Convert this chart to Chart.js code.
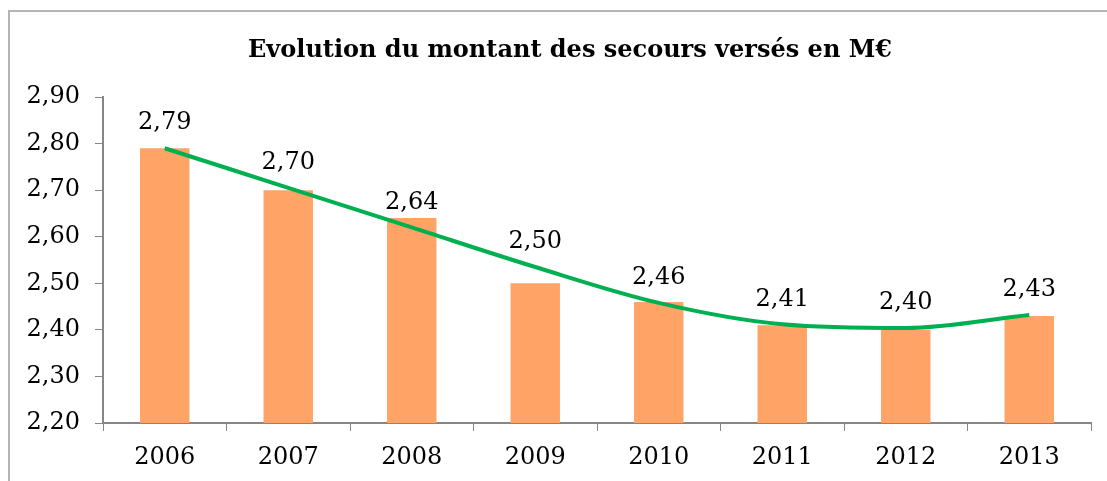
<!DOCTYPE html>
<html>
<head>
<meta charset="utf-8">
<script src="https://cdn.jsdelivr.net/npm/chart.js@4/dist/chart.umd.min.js"></script>
<style>
  html, body { margin: 0; padding: 0; background: #fff; overflow: hidden; }
  #frame { position: absolute; left: 8px; top: 10px; width: 1120px; height: 480px; border-left: 2px solid #b4b4b4; border-top: 2px solid #b4b4b4; box-sizing: border-box; }
  #wrap { position: absolute; left: 0; top: 0; width: 1107px; height: 481px; }
</style>
</head>
<body>
<div id="frame"></div>
<div id="wrap"><canvas id="chart"></canvas></div>
<script>
const years = ['2006', '2007', '2008', '2009', '2010', '2011', '2012', '2013'];
const amounts = [2.79, 2.70, 2.64, 2.50, 2.46, 2.41, 2.40, 2.43];
// trend curve
const trend = [2.79, 2.705, 2.62, 2.535, 2.458, 2.412, 2.404, 2.432];
const yMin = 2.20;
const yMax = 2.90;
const titleText = 'Evolution du montant des secours versés en M€';

const fmt = v => v.toFixed(2).replace('.', ',');
const serif = '"DejaVu Serif", "Liberation Serif", serif';

// title (sits a bit right of the canvas centre, as in the original)
// and the value labels above the bars
const texts = {
  id: 'texts',
  afterDatasetsDraw(chart) {
    const ctx = chart.ctx;
    const meta = chart.getDatasetMeta(0);
    ctx.save();
    ctx.fillStyle = '#000';
    ctx.textAlign = 'center';
    ctx.textBaseline = 'middle';
    ctx.font = 'bold 24px ' + serif;
    ctx.fillText(titleText, 570, 51);
    ctx.font = '24px ' + serif;
    meta.data.forEach((bar, i) => {
      ctx.fillText(fmt(amounts[i]), bar.x, bar.y - 25);
    });
    ctx.restore();
  }
};

new Chart(document.getElementById('chart'), {
  data: {
    labels: years,
    datasets: [
      {
        type: 'line',
        data: trend,
        borderColor: '#00b050',
        borderWidth: 4,
        pointRadius: 0,
        tension: 0.4,
        cubicInterpolationMode: 'monotone',
        fill: false,
        order: 0
      },
      {
        type: 'bar',
        data: amounts,
        backgroundColor: '#ffa366',
        categoryPercentage: 1,
        barPercentage: 0.4,
        order: 1
      }
    ]
  },
  options: {
    responsive: true,
    maintainAspectRatio: false,
    animation: false,
    layout: { padding: { left: 20, right: 16, top: 97, bottom: 0 } },
    plugins: {
      legend: { display: false },
      tooltip: { enabled: false },
      title: { display: false }
    },
    scales: {
      x: {
        offset: true,
        afterFit: scale => { scale.height = 58; },
        grid: { offset: true, drawOnChartArea: false, tickLength: 8, color: '#868686', tickColor: '#868686' },
        border: { color: '#868686', width: 2 },
        ticks: { color: '#000', font: { family: serif, size: 24 }, padding: 12 }
      },
      y: {
        min: yMin,
        max: yMax,
        afterFit: scale => { scale.width = 83; },
        grid: { drawOnChartArea: false, tickLength: 8, color: '#868686', tickColor: '#868686' },
        border: { color: '#868686', width: 2 },
        ticks: {
          stepSize: 0.1,
          color: '#000',
          font: { family: serif, size: 24 },
          padding: 15,
          callback: v => fmt(v)
        }
      }
    }
  },
  plugins: [texts]
});
</script>
</body>
</html>
